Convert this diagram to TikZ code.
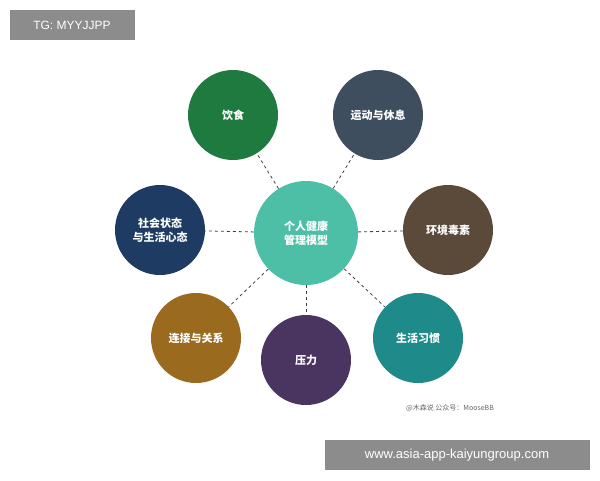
\documentclass[tikz,border=0pt]{standalone}
\usepackage{fontspec}
\setmainfont{Noto Sans CJK SC}
\newfontfamily\latin{Liberation Sans}
\usepackage{tikz}
\definecolor{coreC}{HTML}{4DBFA6}
\definecolor{foodC}{HTML}{1F7A40}
\definecolor{sportC}{HTML}{3E4E5E}
\definecolor{envC}{HTML}{5B4A39}
\definecolor{habitC}{HTML}{1E8A8A}
\definecolor{stressC}{HTML}{4A3560}
\definecolor{bondC}{HTML}{9A6A1E}
\definecolor{socialC}{HTML}{1D3B63}
\tikzset{
  hub/.style={circle, fill=#1, minimum size=90pt, inner sep=0pt, text=white, align=center, font=\fontsize{11}{14}\selectfont\bfseries},
  link/.style={dashed, thick, black!75}
}
\begin{document}
\begin{tikzpicture}[x=1pt,y=-1pt]
    \useasboundingbox (0,0) rectangle (600,480);
    % centre
    \node[hub=coreC, minimum size=104pt] (core) at (306,233) {个人健康\\管理模型};
    
    % outer circles
    \node[hub=foodC] (food) at (233,115) {饮食};
    \node[hub=sportC] (sport) at (378,115) {运动与休息};
    \node[hub=envC] (env) at (448,230) {环境毒素};
    \node[hub=habitC] (habit) at (418,338) {生活习惯};
    \node[hub=stressC] (stress) at (306,360) {压力};
    \node[hub=bondC] (bond) at (196,338) {连接与关系};
    \node[hub=socialC] (social) at (160,230) {社会状态\\与生活心态};
    
    % dashed links
    \foreach \n in {food,sport,env,habit,stress,bond,social}
        \draw[link] (core) -- (\n);
    
    % labels
    \node[fill=black!45, text=white, minimum width=125pt, minimum height=30pt, font=\latin\fontsize{12}{14}\selectfont] (tag) at (72,25) {TG: MYYJJPP};
    \node[fill=black!45, text=white, minimum width=265pt, minimum height=30pt, font=\latin\fontsize{13}{15}\selectfont] (site) at (457,455) {www.asia-app-kaiyungroup.com};
    \node[text=black!60, font=\fontsize{7}{9}\selectfont] (credit) at (450,408) {@木森说\ 公众号：MooseBB};
\end{tikzpicture}
\end{document}
